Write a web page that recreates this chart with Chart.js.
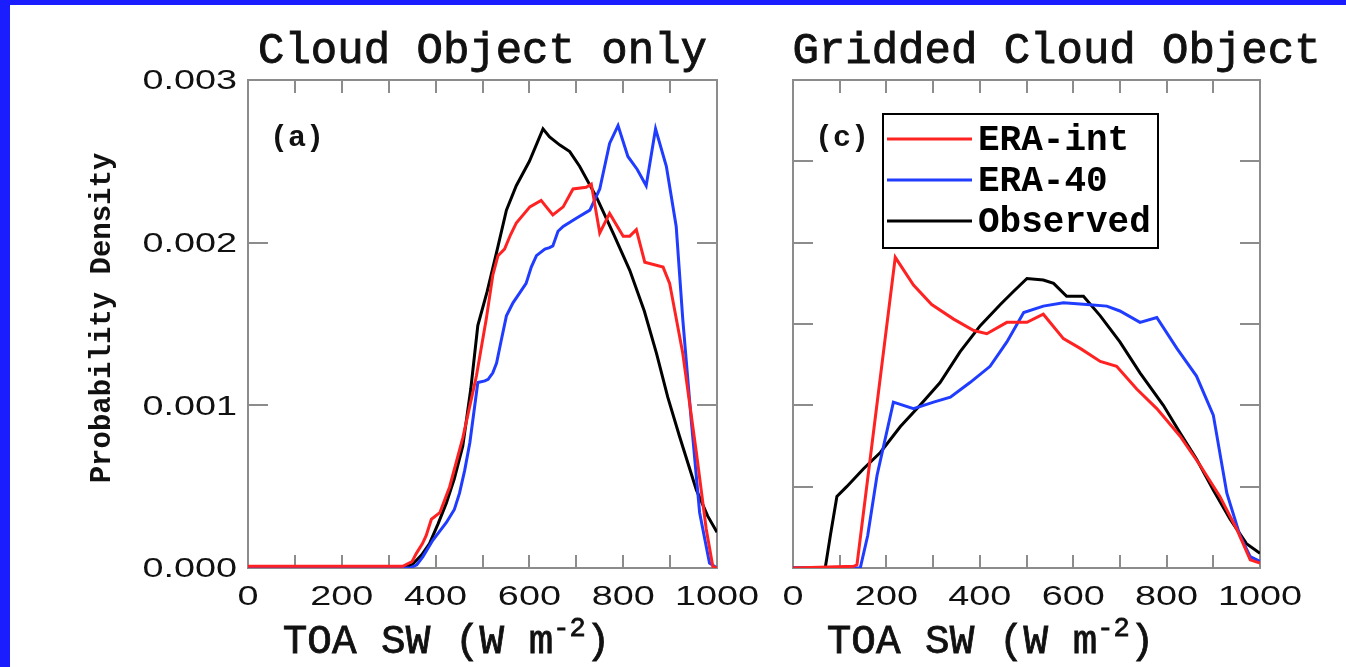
<!DOCTYPE html>
<html>
<head>
<meta charset="utf-8">
<title>TOA SW probability density</title>
<script src="https://cdn.jsdelivr.net/npm/chart.js@4.4.0/dist/chart.umd.min.js"></script>
<style>
  html, body { margin: 0; padding: 0; background: #fff; }
  #page { position: relative; width: 1346px; height: 667px; overflow: hidden; background: #fff; }
  canvas { position: absolute; top: 0; }
  #c1 { left: 0; }
  #c2 { left: 770px; }
  .edge { position: absolute; background: #1a1eff; z-index: 5; }
</style>
</head>
<body>
<div id="page">
  <canvas id="c1" width="770" height="667"></canvas>
  <canvas id="c2" width="576" height="667"></canvas>
  <div class="edge" style="left:0;top:0;width:1346px;height:5px"></div>
  <div class="edge" style="left:0;top:0;width:10px;height:667px"></div>
</div>
<script>
// ---- data (x: TOA SW in W m-2, y: probability density) ----
const seriesNames = ['ERA-int', 'ERA-40', 'Observed'];
const seriesColors = ['#ff2222', '#1f3cff', '#000000'];

// panel (a) Cloud Object only
const aEraIntX = [0, 330, 350, 359, 372, 380, 391, 409, 430, 458, 487, 508, 522, 533, 547, 560, 572, 601, 625, 636, 650, 672, 693, 721, 732, 750, 771, 800, 814, 828, 846, 885, 899, 927, 956, 977, 991, 1000];
const aEraIntY = [0.00001, 0.00001, 0.00004, 0.00009, 0.00015, 0.0002, 0.0003, 0.00034, 0.0005, 0.0008, 0.00118, 0.00153, 0.0018, 0.00192, 0.00196, 0.00205, 0.00212, 0.00222, 0.00226, 0.00222, 0.00217, 0.00222, 0.00233, 0.00234, 0.00236, 0.00206, 0.00218, 0.00204, 0.00204, 0.00208, 0.00188, 0.00185, 0.00175, 0.00132, 0.00071, 0.00024, 0.00001, 0];
const aEra40X = [0, 345, 360, 373, 394, 423, 440, 451, 462, 473, 490, 505, 512, 522, 530, 540, 551, 565, 579, 593, 604, 615, 633, 643, 650, 661, 672, 700, 729, 750, 771, 789, 810, 830, 849, 869, 892, 913, 927, 945, 963, 984, 1000];
const aEra40Y = [0, 0, 0.00002, 0.00007, 0.00017, 0.00028, 0.00036, 0.00046, 0.0006, 0.00077, 0.00114, 0.00115, 0.00116, 0.0012, 0.00126, 0.0014, 0.00155, 0.00163, 0.00169, 0.00175, 0.00185, 0.00192, 0.00196, 0.00197, 0.00198, 0.00207, 0.0021, 0.00215, 0.0022, 0.00233, 0.00261, 0.00272, 0.00253, 0.00245, 0.00235, 0.0027, 0.00247, 0.0021, 0.00153, 0.00091, 0.00034, 0.00003, 0];
const aObsX = [0, 330, 350, 370, 387, 405, 423, 440, 458, 475, 490, 510, 530, 551, 572, 600, 629, 643, 665, 686, 707, 743, 780, 814, 845, 871, 895, 920, 956, 980, 1000];
const aObsY = [0, 0, 0.00002, 0.00008, 0.00015, 0.00027, 0.0004, 0.00055, 0.00075, 0.0011, 0.00149, 0.0017, 0.00194, 0.0022, 0.00235, 0.0025, 0.0027, 0.00265, 0.0026, 0.00256, 0.00247, 0.00228, 0.00205, 0.00183, 0.00158, 0.00132, 0.00105, 0.00081, 0.00048, 0.00032, 0.00022];

// panel (c) Gridded Cloud Object
const cEraIntX = [0, 130, 137, 219, 258, 297, 344, 387, 415, 458, 501, 536, 579, 615, 658, 693, 736, 779, 829, 872, 914, 950, 979, 1000];
const cEraIntY = [0, 0.00001, 0.00002, 0.00191, 0.00174, 0.00162, 0.00153, 0.00146, 0.00144, 0.00151, 0.00151, 0.00156, 0.00141, 0.00135, 0.00127, 0.00124, 0.0011, 0.00098, 0.00081, 0.00063, 0.00044, 0.00024, 0.00005, 0.00003];
const cEra40X = [0, 144, 160, 180, 215, 258, 301, 337, 379, 422, 458, 494, 536, 579, 629, 672, 700, 743, 779, 822, 864, 900, 929, 957, 979, 1000];
const cEra40Y = [0, 0, 0.0002, 0.00057, 0.00102, 0.00098, 0.00102, 0.00105, 0.00114, 0.00124, 0.00139, 0.00157, 0.00161, 0.00163, 0.00162, 0.00161, 0.00158, 0.00151, 0.00154, 0.00135, 0.00118, 0.00094, 0.00046, 0.0002, 0.00007, 0.00004];
const cObsX = [0, 69, 80, 94, 115, 151, 187, 230, 272, 315, 358, 401, 444, 472, 501, 536, 558, 586, 622, 658, 700, 743, 793, 829, 864, 900, 936, 971, 1000];
const cObsY = [0, 0, 0.0002, 0.00044, 0.0005, 0.00061, 0.00071, 0.00087, 0.001, 0.00114, 0.00133, 0.00149, 0.00162, 0.0017, 0.00178, 0.00177, 0.00175, 0.00167, 0.00167, 0.00155, 0.00139, 0.0012, 0.001, 0.00083, 0.00067, 0.00048, 0.0003, 0.00015, 0.00009];

// axes
const xTickValues = [0, 200, 400, 600, 800, 1000];
const xTickLabels = ['0', '200', '400', '600', '800', '1000'];
const xMinorValues = [100, 200, 300, 400, 500, 600, 700, 800, 900];
const yTickValues = [0, 0.001, 0.002, 0.003];
const yTickLabels = ['0.000', '0.001', '0.002', '0.003'];
const aYMarks = [0.001, 0.002];
const cYMarks = [0.0005, 0.001, 0.0015, 0.002, 0.0025];

const panelTitles = ['Cloud Object only', 'Gridded Cloud Object'];
const panelTags = ['(a)', '(c)'];
const xAxisTitle = 'TOA SW (W m';
const xAxisSup = '-2';
const yAxisTitle = 'Probability Density';

const MONO = '"Liberation Mono", "Courier New", monospace';
const SANS = '"Liberation Sans", Arial, sans-serif';
const FRAME = '#8c8c8c';

// draws IDL-style frame, inward ticks, labels, titles and legend
const idlAxes = {
    id: 'idlAxes',
    beforeDatasetsDraw(chart, args, opts) {
        const { ctx, chartArea: a, scales: { x, y } } = chart;
        ctx.save();
        ctx.strokeStyle = FRAME;
        ctx.lineWidth = 2;
        ctx.strokeRect(a.left, a.top, a.right - a.left, a.bottom - a.top);
        ctx.beginPath();
        xMinorValues.forEach(v => {
            const px = Math.round(x.getPixelForValue(v));
            ctx.moveTo(px, a.bottom); ctx.lineTo(px, a.bottom - 13);
            ctx.moveTo(px, a.top); ctx.lineTo(px, a.top + 13);
        });
        opts.yMarks.forEach(v => {
            const py = Math.round(y.getPixelForValue(v));
            ctx.moveTo(a.left, py); ctx.lineTo(a.left + 20, py);
            ctx.moveTo(a.right, py); ctx.lineTo(a.right - 20, py);
        });
        ctx.stroke();
        ctx.restore();
    },
    afterDraw(chart, args, opts) {
        const { ctx, chartArea: a, scales: { x, y } } = chart;
        const cx = (a.left + a.right) / 2;
        ctx.save();
        ctx.fillStyle = '#111';
        ctx.strokeStyle = '#111';

        // tick labels (wide sans face, stretched like the original)
        ctx.font = '27px ' + SANS;
        ctx.textBaseline = 'middle';
        xTickValues.forEach((v, i) => {
            ctx.save();
            ctx.translate(x.getPixelForValue(v), 598);
            ctx.scale(1.4, 1);
            ctx.textAlign = 'center';
            ctx.fillText(xTickLabels[i], 0, 0);
            ctx.restore();
        });
        if (opts.yLabels) {
            yTickValues.forEach((v, i) => {
                ctx.save();
                ctx.translate(a.left - 11, y.getPixelForValue(v) + 2);
                ctx.scale(1.4, 1);
                ctx.textAlign = 'right';
                ctx.fillText(yTickLabels[i], 0, 0);
                ctx.restore();
            });
        }

        // panel title
        ctx.textBaseline = 'alphabetic';
        ctx.textAlign = 'center';
        ctx.font = '44px ' + MONO;
        ctx.lineWidth = 0.9;
        ctx.fillText(opts.title, cx + opts.titleShift, 63);
        ctx.strokeText(opts.title, cx + opts.titleShift, 63);

        // panel tag
        ctx.textAlign = 'left';
        ctx.font = 'bold 30px ' + MONO;
        ctx.fillText(opts.tag, a.left + 22, 146);

        // x axis title with superscript
        ctx.font = '41px ' + MONO;
        const w1 = ctx.measureText(xAxisTitle).width;
        const w3 = ctx.measureText(')').width;
        ctx.font = '27px ' + MONO;
        const w2 = ctx.measureText(xAxisSup).width;
        let tx = cx - 36 - (w1 + w2 + w3) / 2;
        ctx.font = '41px ' + MONO;
        ctx.lineWidth = 0.8;
        ctx.fillText(xAxisTitle, tx, 653); ctx.strokeText(xAxisTitle, tx, 653);
        tx += w1;
        ctx.font = '27px ' + MONO;
        ctx.fillText(xAxisSup, tx, 636); ctx.strokeText(xAxisSup, tx, 636);
        tx += w2;
        ctx.font = '41px ' + MONO;
        ctx.fillText(')', tx, 653); ctx.strokeText(')', tx, 653);

        // y axis title
        if (opts.yTitle) {
            ctx.save();
            ctx.translate(110, 318);
            ctx.rotate(-Math.PI / 2);
            ctx.textAlign = 'center';
            ctx.font = 'bold 29px ' + MONO;
            ctx.fillText(yAxisTitle, 0, 0);
            ctx.restore();
        }

        // legend box
        if (opts.legend) {
            const lx = a.left + 90, ly = 114;
            ctx.strokeStyle = '#000';
            ctx.lineWidth = 2;
            ctx.strokeRect(lx, ly, 275, 134);
            ctx.font = 'bold 36px ' + MONO;
            ctx.textBaseline = 'middle';
            chart.data.datasets.forEach((ds, i) => {
                const ry = ly + 25 + i * 41;
                ctx.strokeStyle = ds.borderColor;
                ctx.lineWidth = 3;
                ctx.beginPath();
                ctx.moveTo(lx + 4, ry); ctx.lineTo(lx + 89, ry);
                ctx.stroke();
                ctx.fillStyle = '#000';
                ctx.fillText(ds.label, lx + 95, ry + 2);
            });
        }
        ctx.restore();
    }
};

const makeDatasets = (xs, ys) => xs.map((xv, k) => ({
    label: seriesNames[k],
    data: xv.map((v, i) => ({ x: v, y: ys[k][i] })),
    borderColor: seriesColors[k],
    borderWidth: 3,
    pointRadius: 0,
    tension: 0,
    fill: false
}));

const makeChart = (id, datasets, padding, panelOpts) => new Chart(document.getElementById(id), {
    type: 'line',
    data: { datasets },
    options: {
        responsive: false,
        animation: false,
        layout: { padding },
        plugins: {
            legend: { display: false },
            tooltip: { enabled: false },
            idlAxes: panelOpts
        },
        scales: {
            x: { type: 'linear', min: 0, max: 1000, display: false },
            y: { type: 'linear', min: 0, max: 0.003, display: false }
        }
    },
    plugins: [idlAxes]
});

makeChart('c1',
    makeDatasets([aEraIntX, aEra40X, aObsX], [aEraIntY, aEra40Y, aObsY]),
    { left: 248, top: 80, right: 53, bottom: 99 },
    { title: panelTitles[0], titleShift: 0, tag: panelTags[0], yMarks: aYMarks, yLabels: true, yTitle: true, legend: false });

makeChart('c2',
    makeDatasets([cEraIntX, cEra40X, cObsX], [cEraIntY, cEra40Y, cObsY]),
    { left: 23, top: 80, right: 86, bottom: 99 },
    { title: panelTitles[1], titleShift: 30, tag: panelTags[1], yMarks: cYMarks, yLabels: false, yTitle: false, legend: true });
</script>
</body>
</html>
